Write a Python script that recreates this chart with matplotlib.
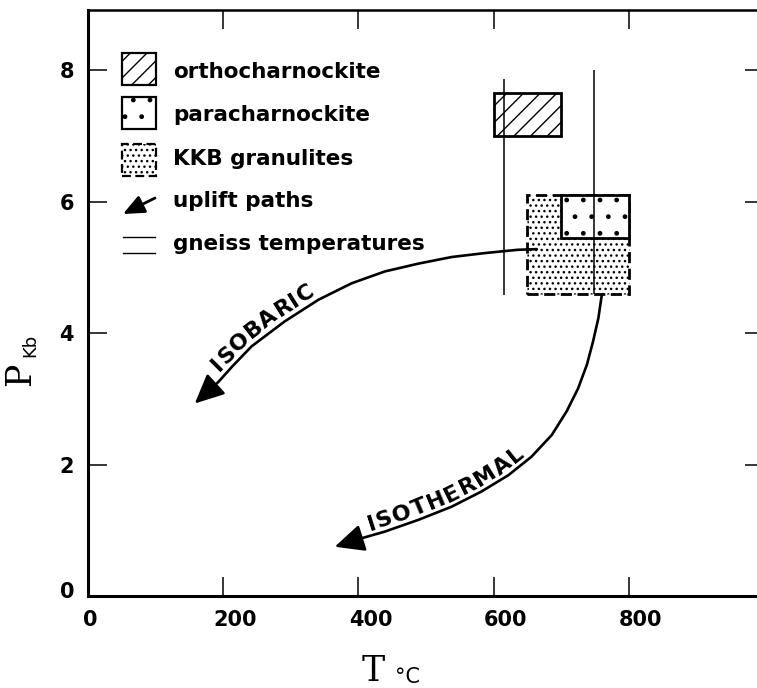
import numpy as np
import matplotlib
matplotlib.use('Agg')
import matplotlib.pyplot as plt
from matplotlib.patches import Rectangle
from matplotlib.textpath import TextToPath
from matplotlib.font_manager import FontProperties
import matplotlib.transforms as mtransforms

plt.rcParams['hatch.linewidth'] = 1.0
plt.rcParams['font.family'] = ['DejaVu Sans']

# ---------------- data ----------------
x_ticks = [0, 200, 400, 600, 800]
y_ticks = [0, 2, 4, 6, 8]

ortho_T = [600, 700]
ortho_P = [7.0, 7.65]
para_T = [700, 800]
para_P = [5.45, 6.1]
kkb_T = [650, 800]
kkb_P = [4.6, 6.1]

gneiss_T = [615, 748]
gneiss_Pmin = [4.58, 4.6]
gneiss_Pmax = [7.87, 8.0]

isobaric_T = [664, 636, 587, 538, 489, 439, 390, 341, 291, 242, 213, 193, 158]
isobaric_P = [5.28, 5.27, 5.22, 5.16, 5.06, 4.94, 4.76, 4.51, 4.18, 3.80, 3.49, 3.26, 2.93]
isothermal_T = [760, 755, 747, 738, 725, 708, 686, 656, 622, 582, 538, 489, 439, 405, 365]
isothermal_P = [4.58, 4.23, 3.87, 3.52, 3.16, 2.81, 2.45, 2.12, 1.84, 1.59, 1.36, 1.16, 0.98, 0.88, 0.75]

legend_labels = ['orthocharnockite', 'paracharnockite', 'KKB granulites',
                 'uplift paths', 'gneiss temperatures']

# ---------------- figure ----------------
W, H = 757, 688
fig = plt.figure(figsize=(W / 100, H / 100), dpi=100)
ax = fig.add_axes([88 / W, (H - 596) / H, (764 - 88) / W, (596 - 10) / H])
ax.set_xlim(0, 1000)
ax.set_ylim(0, 8.92)

for s in ['left', 'bottom']:
    ax.spines[s].set_linewidth(2.2)
ax.spines['top'].set_linewidth(1.8)
ax.spines['right'].set_visible(False)

ax.set_xticks(x_ticks)
ax.set_yticks(y_ticks)
ax.set_xticklabels([str(v) for v in x_ticks])
ax.set_yticklabels([str(v) for v in y_ticks])
ax.tick_params(direction='in', length=13.5, width=1.1, top=True, right=True,
               labelsize=15, pad=10)
for lab in ax.get_xticklabels() + ax.get_yticklabels():
    lab.set_fontweight('bold')

# shift x tick labels (hand lettered, placed right of ticks)
for i, tk in enumerate(ax.xaxis.get_major_ticks()):
    dx = 2 if i == 0 else 12
    tk.label1.set_transform(tk.label1.get_transform() +
                            mtransforms.ScaledTranslation(dx / 100, 0, fig.dpi_scale_trans))
tk0 = ax.yaxis.get_major_ticks()[0]
tk0.label1.set_transform(tk0.label1.get_transform() +
                         mtransforms.ScaledTranslation(0, 6 / 100, fig.dpi_scale_trans))

# ---------------- rectangles ----------------
ax.add_patch(Rectangle((ortho_T[0], ortho_P[0]), ortho_T[1] - ortho_T[0], ortho_P[1] - ortho_P[0],
                       facecolor='white', edgecolor='black', hatch='//', linewidth=2.0, zorder=3))
ax.add_patch(Rectangle((kkb_T[0], kkb_P[0]), kkb_T[1] - kkb_T[0], kkb_P[1] - kkb_P[0],
                       facecolor='white', edgecolor='black', hatch='...', linewidth=2.0,
                       linestyle=(0, (4, 2)), zorder=3))
ax.add_patch(Rectangle((para_T[0], para_P[0]), para_T[1] - para_T[0], para_P[1] - para_P[0],
                       facecolor='white', edgecolor='black', hatch='.', linewidth=2.0, zorder=4))

# gneiss temperature lines
ax.vlines(gneiss_T, gneiss_Pmin, gneiss_Pmax, colors='black', linewidth=1.1, zorder=5)

# ---------------- uplift paths ----------------
arrow_kw = dict(arrowstyle='-|>,head_length=0.9,head_width=0.42', mutation_scale=20,
                color='black', lw=1.9, shrinkA=0, shrinkB=0)
for T, P in [(isobaric_T, isobaric_P), (isothermal_T, isothermal_P)]:
    ax.plot(T[:-1], P[:-1], color='black', lw=1.9, solid_capstyle='round',
            solid_joinstyle='round', zorder=6)
    ax.annotate('', xy=(T[-1], P[-1]), xytext=(T[-2], P[-2]),
                arrowprops=arrow_kw, zorder=6)


def text_on_curve(T, P, label, s_start, gap, fontsize, spacing):
    pts = ax.transData.transform(np.column_stack([T, P]))[::-1]
    seg = np.diff(pts, axis=0)
    seglen = np.hypot(seg[:, 0], seg[:, 1])
    cum = np.concatenate([[0], np.cumsum(seglen)])
    prop = FontProperties(family='DejaVu Sans', weight='bold', size=fontsize)
    ttp = TextToPath()
    widths = [ttp.get_text_width_height_descent(c, prop, ismath=False)[0] * fig.dpi / 72
              for c in label]
    inv = ax.transData.inverted()
    s = s_start
    for c, w in zip(label, widths):
        sc = s + w / 2
        i = int(np.clip(np.searchsorted(cum, sc) - 1, 0, len(seg) - 1))
        t = (sc - cum[i]) / seglen[i]
        p = pts[i] + t * seg[i]
        # smooth tangent: average neighbouring segment directions
        j0, j1 = max(i - 1, 0), min(i + 1, len(seg) - 1)
        d = (pts[j1 + 1] - pts[j0])
        d = d / np.hypot(*d)
        n = np.array([-d[1], d[0]])
        q = inv.transform(p + n * gap)
        ang = np.degrees(np.arctan2(d[1], d[0]))
        ax.text(q[0], q[1], c, rotation=ang, rotation_mode='anchor', ha='center',
                va='baseline', fontsize=fontsize, fontweight='bold', zorder=7)
        s += w + spacing


text_on_curve(isobaric_T, isobaric_P, 'ISOBARIC', 40, 6, 16, 0.5)
text_on_curve(isothermal_T, isothermal_P, 'ISOTHERMAL', 38, 5, 16, 1.5)

# ---------------- legend (drawn manually) ----------------
AW, AH = 764 - 88, 586


def ax_xy(px, py):
    return ((px - 88) / AW, (596 - py) / AH)


pw, ph = 34 / AW, 32 / AH
x0, _ = ax_xy(122, 0)
for (ytop, hatch, ls) in [(53, '//', '-'), (97, '.', '-'), (144, '...', (0, (4, 2)))]:
    _, yb = ax_xy(0, ytop + 32)
    ax.add_patch(Rectangle((x0, yb), pw, ph, transform=ax.transAxes, facecolor='white',
                           edgecolor='black', hatch=hatch, linewidth=1.6, linestyle=ls,
                           zorder=3))
ax.annotate('', xy=ax_xy(123, 214), xytext=ax_xy(155, 198), xycoords='axes fraction',
            textcoords='axes fraction',
            arrowprops=dict(arrowstyle='-|>,head_length=0.8,head_width=0.35',
                            mutation_scale=16, color='black', lw=2.0,
                            shrinkA=0, shrinkB=0))
for py in (237, 253):
    xa, ya = ax_xy(123, py)
    xb, _ = ax_xy(155, py)
    ax.plot([xa, xb], [ya, ya], transform=ax.transAxes, color='black', lw=1.0)

for py, lab in zip([72, 115, 159, 201, 244], legend_labels):
    tx, ty = ax_xy(173, py)
    ax.text(tx, ty, lab, transform=ax.transAxes, ha='left', va='center',
            fontsize=15.5, fontweight='bold')

# ---------------- axis labels ----------------
fig.text(373 / W, 1 - 671 / H, 'T', fontsize=25, family='DejaVu Serif',
         ha='center', va='center')
fig.text(395 / W, 1 - 683 / H, '°C', fontsize=15, ha='left', va='baseline')
fig.text(20 / W, 1 - 374 / H, 'P', fontsize=25, family='DejaVu Serif',
         rotation=90, ha='center', va='center')
fig.text(30 / W, 1 - 345 / H, 'Kb', fontsize=13, rotation=90, ha='center', va='center')

fig.savefig('out.png', dpi=100)
